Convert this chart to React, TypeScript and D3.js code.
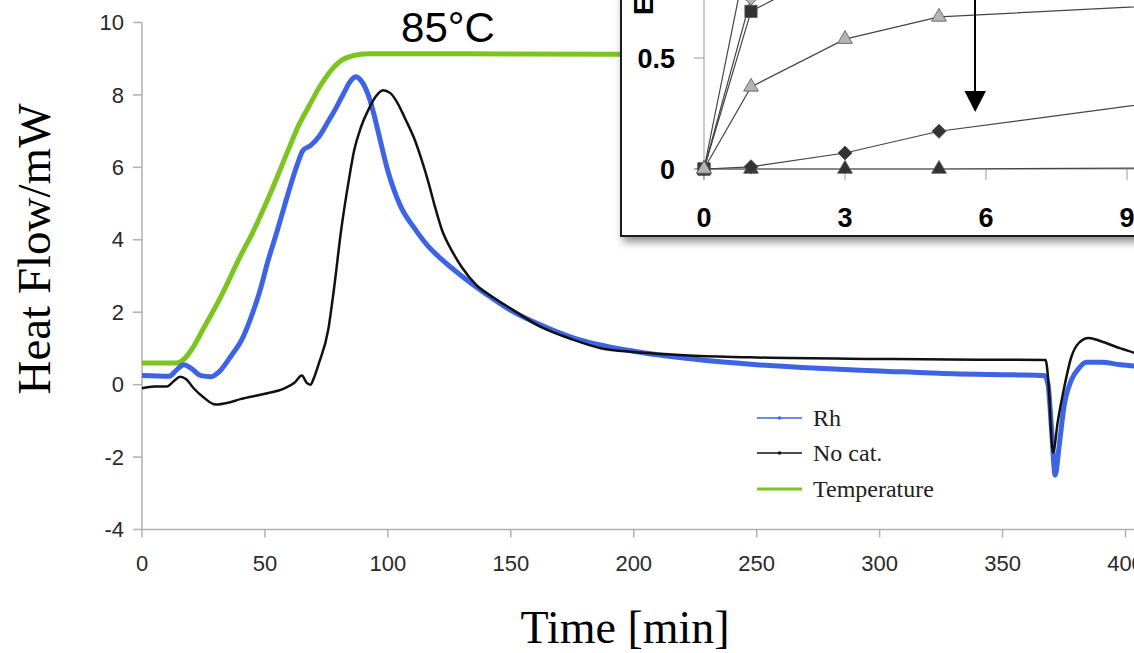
import React from "react";
import * as d3 from "d3";

// ---- Main chart data (time in min, heat flow in mW) ----
const xTicks = [0, 50, 100, 150, 200, 250, 300, 350, 400];
const yTicks = [-4, -2, 0, 2, 4, 6, 8, 10];

const tempTime = [0, 14, 17, 20, 25, 32, 40, 45, 52, 59, 64, 68, 72, 76, 80, 86, 92, 150, 200];
const tempVal = [0.6, 0.6, 0.7, 0.95, 1.55, 2.42, 3.55, 4.2, 5.25, 6.4, 7.2, 7.7, 8.2, 8.6, 8.9, 9.09, 9.14, 9.13, 9.12];

const rhTime = [0, 11, 14, 17, 20, 24, 28, 32, 36, 41, 45, 48, 51, 55, 59, 63, 65.5, 68.5, 72, 76, 79, 82, 85, 87, 89, 92, 94, 96, 100, 105, 111, 116, 122, 130, 140, 150, 162, 175, 200, 225, 250, 275, 300, 330, 355, 367, 368.5, 370, 371.4, 373, 375, 378, 381, 384, 390, 398, 406];
const rhVal = [0.25, 0.23, 0.4, 0.55, 0.45, 0.25, 0.22, 0.4, 0.77, 1.3, 1.98, 2.6, 3.36, 4.25, 5.18, 6.05, 6.47, 6.6, 6.85, 7.3, 7.65, 8.04, 8.4, 8.5, 8.4, 8.0, 7.55, 7.0, 5.9, 4.95, 4.3, 3.85, 3.45, 3.0, 2.5, 2.05, 1.65, 1.3, 0.92, 0.7, 0.55, 0.45, 0.38, 0.3, 0.27, 0.25, 0.0, -1.3, -2.5, -1.7, -0.6, 0.13, 0.45, 0.62, 0.62, 0.55, 0.5];

const noCatTime = [0, 5, 10, 13, 15.5, 18, 21, 25, 30, 35, 40, 50, 58, 62, 65, 67, 68.5, 70, 72, 75.7, 78, 81, 84, 86.3, 89, 92, 95, 98, 101, 104, 107, 111, 114, 116.6, 119, 122, 126, 130, 136, 143, 150, 162, 175, 187, 200, 225, 250, 300, 340, 367.5, 368.5, 370.5, 372.5, 375, 378, 381, 385, 390, 398, 406];
const noCatVal = [-0.1, -0.05, -0.05, 0.1, 0.22, 0.15, -0.1, -0.35, -0.55, -0.5, -0.4, -0.25, -0.1, 0.05, 0.25, 0.05, 0.0, 0.2, 0.6, 1.5, 2.6, 4.27, 5.6, 6.47, 7.1, 7.58, 7.95, 8.13, 8.05, 7.77, 7.35, 6.75, 6.15, 5.56, 4.95, 4.27, 3.7, 3.25, 2.75, 2.4, 2.1, 1.6, 1.25, 1.0, 0.9, 0.8, 0.75, 0.71, 0.69, 0.68, 0.2, -1.88, -1.0, -0.1, 0.77, 1.15, 1.29, 1.2, 1.0, 0.83];

const legendLabels = ["Rh", "No cat.", "Temperature"];

// ---- Inset data ----
const insetTime = [0, 1, 3, 5, 10];
const insetXTicks = [0, 3, 6, 9];
const insetYTicks = [0, 0.5];
const lightTriangles = [0, 0.37, 0.585, 0.685, 0.74];
const darkDiamonds = [0, 0.01, 0.072, 0.17, 0.31];
const darkTriangles = [0, 0, 0, 0, 0.005];
const darkSquares = [0, 0.71, 0.93, 0.97, 1.0];
const lightDiamonds = [0, 0.77, 0.95, 0.98, 1.0];
const lightSquares = [0, 1.05, 1.02, 1.0, 1.0];

const BLUE = "#3d64e4";
const GREEN = "#7cc41f";
const BLACK = "#111111";

export default function App() {
  const x = d3.scaleLinear().domain([0, 400]).range([142, 1125.5]);
  const y = d3.scaleLinear().domain([-4, 10]).range([529.5, 22.5]);

  const line = d3
    .line<[number, number]>()
    .x((d) => x(d[0]))
    .y((d) => y(d[1]))
    .curve(d3.curveMonotoneX);

  const zip = (a: number[], b: number[]) => a.map((t, i) => [t, b[i]] as [number, number]);

  const ix = d3.scaleLinear().domain([0, 9]).range([704, 1127]);
  const iy = d3.scaleLinear().domain([0, 0.5]).range([169, 58]);
  const iline = d3
    .line<[number, number]>()
    .x((d) => ix(d[0]))
    .y((d) => iy(d[1]));

  const triPath = d3.symbol().type(d3.symbolTriangle).size(95)() as string;
  const diaPath = d3.symbol().type(d3.symbolSquare).size(100)() as string;
  const sqPath = d3.symbol().type(d3.symbolSquare).size(150)() as string;

  const insetSeries = [
    { vals: lightSquares, shape: sqPath, rot: 0, fill: "#b4b4b4" },
    { vals: lightDiamonds, shape: diaPath, rot: 45, fill: "#b4b4b4" },
    { vals: darkSquares, shape: sqPath, rot: 0, fill: "#333" },
    { vals: darkTriangles, shape: triPath, rot: 0, fill: "#333" },
    { vals: darkDiamonds, shape: diaPath, rot: 45, fill: "#333" },
    { vals: lightTriangles, shape: triPath, rot: 0, fill: "#b4b4b4" },
  ];

  const legendColors = [BLUE, BLACK, GREEN];
  const legendWidths = [1.6, 1.6, 3];

  return (
    <svg
      width={1134}
      height={653}
      style={{ position: "absolute", left: 0, top: 0, background: "#fff" }}
      fontFamily="Arial, 'Liberation Sans', sans-serif"
    >
      <defs>
        <filter id="shadow" x="-10%" y="-10%" width="130%" height="140%">
          <feDropShadow dx="3" dy="5" stdDeviation="4" floodColor="#000" floodOpacity="0.45" />
        </filter>
      </defs>
      <rect x={0} y={0} width={1134} height={653} fill="#fff" />

      {/* main axes */}
      <line x1={x(0)} x2={x(0)} y1={y(10)} y2={y(-4)} stroke="#b0b0b0" strokeWidth={1.5} />
      <line x1={x(0)} x2={1134} y1={y(-4)} y2={y(-4)} stroke="#b0b0b0" strokeWidth={1.5} />
      {yTicks.map((t) => (
        <g key={"y" + t}>
          <line x1={x(0) - 9} x2={x(0)} y1={y(t)} y2={y(t)} stroke="#b0b0b0" strokeWidth={1.5} />
          <text x={124} y={y(t)} dy="0.35em" textAnchor="end" fontSize={22} fill="#2a2a2a">
            {t}
          </text>
        </g>
      ))}
      {xTicks.map((t) => (
        <g key={"x" + t}>
          <line x1={x(t)} x2={x(t)} y1={y(-4)} y2={y(-4) + 8} stroke="#b0b0b0" strokeWidth={1.5} />
          <text x={x(t)} y={571} textAnchor="middle" fontSize={22} fill="#2a2a2a">
            {t}
          </text>
        </g>
      ))}

      {/* series */}
      <path d={line(zip(tempTime, tempVal)) as string} fill="none" stroke={GREEN} strokeWidth={5} strokeLinejoin="round" />
      <path d={line(zip(rhTime, rhVal)) as string} fill="none" stroke={BLUE} strokeWidth={5} strokeLinejoin="round" />
      <path d={line(zip(noCatTime, noCatVal)) as string} fill="none" stroke={BLACK} strokeWidth={2.5} strokeLinejoin="round" />

      {/* legend */}
      {legendLabels.map((lab, i) => {
        const ly = [418, 453, 489][i];
        return (
          <g key={lab}>
            <line x1={757} x2={802} y1={ly} y2={ly} stroke={legendColors[i]} strokeWidth={legendWidths[i]} />
            {i < 2 && <circle cx={779.5} cy={ly} r={1.8} fill={legendColors[i]} />}
            <text x={813} y={ly + 7.5} fontFamily="'Liberation Serif', 'Times New Roman', serif" fontSize={24} fill="#222">
              {lab}
            </text>
          </g>
        );
      })}

      {/* axis titles */}
      <text x={625} y={643} textAnchor="middle" fontFamily="'Liberation Serif', 'Times New Roman', serif" fontSize={46} fill="#000">
        Time [min]
      </text>
      <text
        transform="translate(50,249) rotate(-90)"
        textAnchor="middle"
        fontFamily="'Liberation Serif', 'Times New Roman', serif"
        fontSize={47}
        fill="#000"
      >
        Heat Flow/mW
      </text>

      <text x={448} y={41.5} textAnchor="middle" fontSize={42} fill="#000">
        85°C
      </text>

      {/* inset */}
      <g>
        <rect x={621} y={-20} width={600} height={256} fill="#fff" stroke="#1a1a1a" strokeWidth={2} filter="url(#shadow)" />
        <line x1={ix(0)} x2={ix(0)} y1={-5} y2={iy(0) + 11} stroke="#999" strokeWidth={1} />
        <line x1={ix(0) - 10} x2={1134} y1={iy(0)} y2={iy(0)} stroke="#999" strokeWidth={1} />
        {insetYTicks.map((t) => (
          <g key={"iy" + t}>
            <line x1={ix(0) - 10} x2={ix(0)} y1={iy(t)} y2={iy(t)} stroke="#999" strokeWidth={1} />
            <text x={675} y={iy(t)} dy="0.36em" textAnchor="end" fontWeight="bold" fontSize={27} fill="#000">
              {t}
            </text>
          </g>
        ))}
        {insetXTicks.map((t) => (
          <g key={"ix" + t}>
            <line x1={ix(t)} x2={ix(t)} y1={iy(0)} y2={iy(0) + 11} stroke="#999" strokeWidth={1} />
            <text x={ix(t)} y={227} textAnchor="middle" fontWeight="bold" fontSize={27} fill="#000">
              {t}
            </text>
          </g>
        ))}
        <text transform="translate(653,15) rotate(-90)" textAnchor="start" fontWeight="bold" fontSize={28} fill="#000">
          Ee
        </text>
        {insetSeries.map((s, si) => (
          <path key={"il" + si} d={iline(zip(insetTime, s.vals)) as string} fill="none" stroke="#444" strokeWidth={1.2} />
        ))}
        {insetSeries.map((s, si) =>
          s.vals.map((v, i) => (
            <path
              key={"im" + si + "-" + i}
              d={s.shape}
              transform={`translate(${ix(insetTime[i])},${iy(v)}) rotate(${s.rot})`}
              fill={s.fill}
              stroke="#555"
              strokeWidth={0.8}
            />
          ))
        )}
        {/* arrow */}
        <line x1={975} x2={975} y1={-5} y2={95} stroke="#000" strokeWidth={2} />
        <path d="M964.5,91 L986,91 L975.2,112 Z" fill="#000" />
      </g>
    </svg>
  );
}
